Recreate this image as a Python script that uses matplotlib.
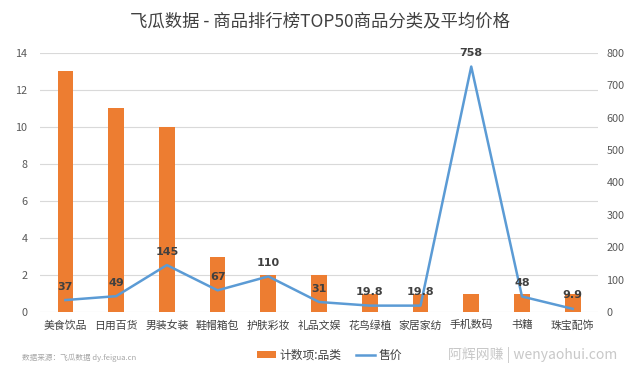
import matplotlib.pyplot as plt

plt.rcParams['font.family'] = ['Noto Sans CJK SC', 'DejaVu Sans']

categories = ["美食饮品", "日用百货", "男装女装", "鞋帽箱包", "护肤彩妆", "礼品文娱",
              "花鸟绿植", "家居家纺", "手机数码", "书籍", "珠宝配饰"]
counts = [13, 11, 10, 3, 2, 2, 1, 1, 1, 1, 1]
prices = [37, 49, 145, 67, 110, 31, 19.8, 19.8, 758, 48, 9.9]
price_labels = ["37", "49", "145", "67", "110", "31", "19.8", "19.8", "758", "48", "9.9"]

bar_color = "#ED7D31"
line_color = "#5B9BD5"
grid_color = "#D9D9D9"
tick_color = "#595959"

fig = plt.figure(figsize=(6.4, 3.81), dpi=100)
ax = fig.add_axes([0.0625, 0.181, 0.872, 0.680])
ax2 = ax.twinx()

x = list(range(len(categories)))

# bars (left axis)
ax.bar(x, counts, width=0.31, color=bar_color, zorder=2, label="计数项:品类")
ax.set_ylim(0, 14)
ax.set_yticks(range(0, 15, 2))
ax.set_xlim(-0.5, len(categories) - 0.5)
ax.set_xticks(x)
ax.set_xticklabels(categories)
ax.grid(axis="y", color=grid_color, linewidth=0.8, zorder=0)
ax.set_axisbelow(True)

# line (right axis)
ax2.plot(x, prices, color=line_color, linewidth=1.8, zorder=3, label="售价")
ax2.set_ylim(0, 800)
ax2.set_yticks(range(0, 801, 100))
for xi, p, lab in zip(x, prices, price_labels):
    ax2.annotate(lab, (xi, p), xytext=(0, 6), textcoords="offset points",
                 ha="center", va="bottom", fontsize=8, fontweight="bold",
                 color="#404040", family="DejaVu Sans")

for a in (ax, ax2):
    for s in a.spines.values():
        s.set_visible(False)
    a.tick_params(axis="both", length=0, labelsize=7.8, labelcolor=tick_color)
ax.tick_params(axis="x", labelsize=7.8, labelcolor="#404040", pad=6)
ax.tick_params(axis="y", pad=9)
ax2.tick_params(axis="y", pad=6)

# title
fig.text(0.5, 0.943, "飞瓜数据 - 商品排行榜TOP50商品分类及平均价格",
         ha="center", va="center", fontsize=12.5, color="#404040")

# legend
h1, l1 = ax.get_legend_handles_labels()
h2, l2 = ax2.get_legend_handles_labels()
fig.legend(h1 + h2, l1 + l2, loc="center", bbox_to_anchor=(0.515, 0.068), ncol=2,
           frameon=False, fontsize=8.5, handlelength=1.6, handleheight=0.5,
           columnspacing=1.2, handletextpad=0.3, labelcolor="#404040")

# source and watermark
fig.text(0.035, 0.062, "数据来源：飞瓜数据 dy.feigua.cn", fontsize=5.5, color="#A6A6A6",
         va="center")
fig.text(0.70, 0.068, "阿辉网赚 | wenyaohui.com", fontsize=10, color="#C8C8C8",
         va="center")

fig.savefig("out.png", dpi=100)
